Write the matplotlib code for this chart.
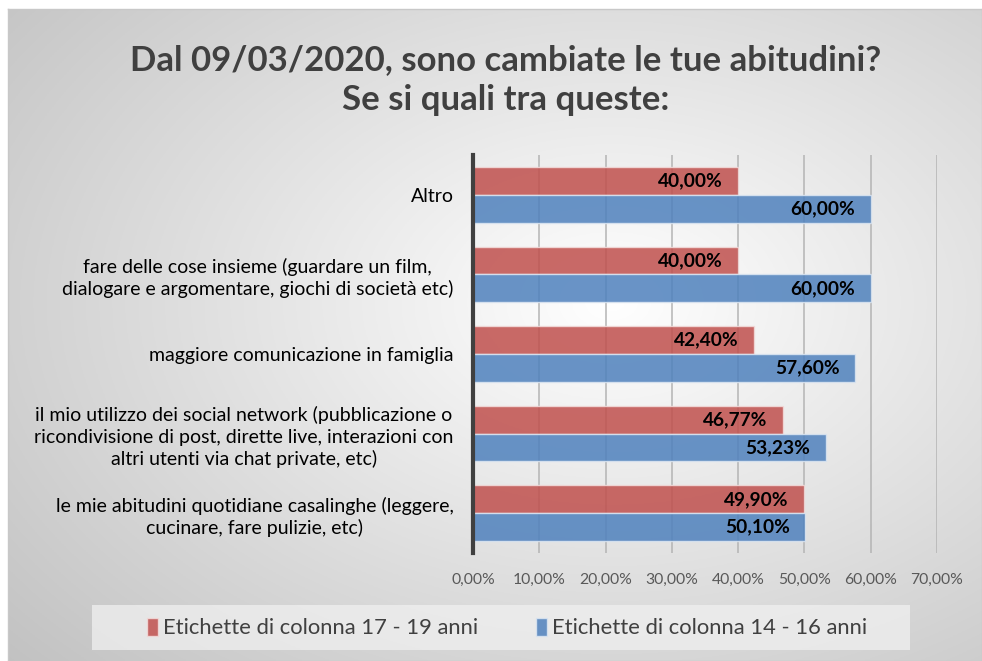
import numpy as np
import matplotlib
matplotlib.use("Agg")
import matplotlib.pyplot as plt
from matplotlib.patches import Rectangle, Patch

plt.rcParams["font.family"] = ["Lato", "DejaVu Sans"]

# ------------------------------------------------------------
# Data (bottom to top, as drawn)
# ------------------------------------------------------------
categories = [
    "le mie abitudini quotidiane casalinghe (leggere,\ncucinare, fare pulizie, etc)",
    "il mio utilizzo dei social network (pubblicazione o\nricondivisione di post, dirette live, interazioni con\naltri utenti via chat private, etc)",
    "maggiore comunicazione in famiglia",
    "fare delle cose insieme (guardare un film,\ndialogare e argomentare, giochi di società etc)",
    "Altro",
]
eta_17_19 = [49.90, 46.77, 42.40, 40.00, 40.00]
eta_14_16 = [50.10, 53.23, 57.60, 60.00, 60.00]
series_names = ["Etichette di colonna 17 - 19 anni", "Etichette di colonna 14 - 16 anni"]
x_ticks = [0, 10, 20, 30, 40, 50, 60, 70]

RED = "#c0504d"
BLUE = "#4f81bd"
TXT = "#404040"

W, H = 982, 661
fig = plt.figure(figsize=(W / 100, H / 100), dpi=100, facecolor="white")

# ------------------------------------------------------------
# Background: radial grey gradient inside a thin frame
# ------------------------------------------------------------
x0, y0 = 8 / W, 0.0
bg = fig.add_axes([x0, y0, 1 - x0, 1 - 9 / H], zorder=-10)
gx, gy = np.meshgrid(np.linspace(0, 1, 400), np.linspace(0, 1, 300))
r = np.sqrt((gx - 0.62) ** 2 + (gy - 0.45) ** 2)
shade = 1 - 0.29 * r
bg.imshow(np.dstack([shade] * 3), aspect="auto", extent=[0, 1, 1, 0])
bg.set_xticks([])
bg.set_yticks([])
for s in bg.spines.values():
    s.set_color("#c8c8c8")
    s.set_linewidth(1)

# ------------------------------------------------------------
# Bars
# ------------------------------------------------------------
ax = fig.add_axes([473 / W, 1 - 553 / H, (937 - 473) / W, (553 - 155) / H])
ax.set_facecolor("none")
y = np.arange(len(categories))
h = 0.35
ax.barh(y + h / 2, eta_17_19, height=h, color=RED, alpha=0.85,
        edgecolor="#f2dcdb", linewidth=1, zorder=3)
ax.barh(y - h / 2, eta_14_16, height=h, color=BLUE, alpha=0.85,
        edgecolor="#dce6f2", linewidth=1, zorder=3)

for yi, v in zip(y, eta_17_19):
    ax.annotate(f"{v:.2f}%".replace(".", ","), (v, yi + h / 2),
                xytext=(-11, 0), textcoords="offset points",
                ha="right", va="center", fontsize=13.8, fontweight="bold",
                color="black", zorder=5)
for yi, v in zip(y, eta_14_16):
    ax.annotate(f"{v:.2f}%".replace(".", ","), (v, yi - h / 2),
                xytext=(-11, 0), textcoords="offset points",
                ha="right", va="center", fontsize=13.8, fontweight="bold",
                color="black", zorder=5)

ax.set_xlim(0, 70)
ax.set_ylim(-0.5, 4.5)
ax.set_xticks(x_ticks)
ax.set_xticklabels([f"{t:.2f}%".replace(".", ",") for t in x_ticks],
                   fontsize=11.3, color="#595959")
ax.set_yticks(y)
ax.set_yticklabels(categories, fontsize=14, color="black",
                   multialignment="center", linespacing=1.3)
ax.tick_params(axis="x", length=0, pad=14)
ax.tick_params(axis="y", length=0, pad=14)
ax.grid(axis="x", color="#b4b4b4", linewidth=1.1, zorder=4)
ax.set_axisbelow(False)
for side in ["top", "right", "bottom"]:
    ax.spines[side].set_visible(False)
ax.spines["left"].set_color(TXT)
ax.spines["left"].set_linewidth(3)
ax.spines["left"].set_zorder(6)

# ------------------------------------------------------------
# Title
# ------------------------------------------------------------
fig.text(506 / W, 1 - 80 / H,
         "Dal 09/03/2020, sono cambiate le tue abitudini?\nSe si quali tra queste:",
         ha="center", va="center", fontsize=25, fontweight="bold",
         color=TXT, linespacing=1.3)

# ------------------------------------------------------------
# Legend in a light box
# ------------------------------------------------------------
fig.patches.append(Rectangle((92 / W, 1 - 650 / H), (910 - 92) / W, 45 / H,
                             transform=fig.transFigure, facecolor="#f0f0f0",
                             alpha=0.75, edgecolor="none", zorder=1))
handles = [Patch(facecolor=RED, alpha=0.85, edgecolor="#f2dcdb"),
           Patch(facecolor=BLUE, alpha=0.85, edgecolor="#dce6f2")]
leg = fig.legend(handles, series_names, loc="center",
                 bbox_to_anchor=(507 / W, 1 - 628 / H), ncol=2, frameon=False,
                 fontsize=15.8, handlelength=0.5, handleheight=0.9,
                 handletextpad=0.25, columnspacing=2.6)
for t in leg.get_texts():
    t.set_color(TXT)

fig.savefig("out.png", dpi=100, facecolor="white")
